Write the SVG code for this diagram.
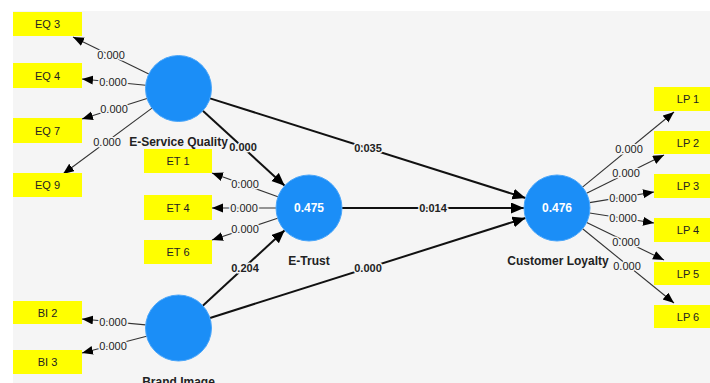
<svg xmlns="http://www.w3.org/2000/svg" width="710" height="383" viewBox="0 0 710 383">
<defs>
<style>
.box{fill:#ffff00}
.bt{font-family:"Liberation Sans",Arial,sans-serif;font-size:11px;fill:#222;text-anchor:middle}
.lv{fill:#1b8ef7;stroke:#4aa6fa;stroke-width:1}
.lt{font-family:"Liberation Sans",Arial,sans-serif;font-size:12px;font-weight:bold;fill:#222;text-anchor:middle}
.r2{font-family:"Liberation Sans",Arial,sans-serif;font-size:12px;font-weight:bold;fill:#fff;text-anchor:middle}
.ind{stroke:#333;stroke-width:1.1;fill:none;marker-end:url(#ah)}
.str{stroke:#111;stroke-width:2;fill:none;marker-end:url(#ahb)}
.nl{font-family:"Liberation Sans",Arial,sans-serif;font-size:11px;fill:#222;text-anchor:middle;stroke:#f5f5f5;stroke-width:3;paint-order:stroke}
.nb{font-family:"Liberation Sans",Arial,sans-serif;font-size:11px;font-weight:bold;fill:#222;text-anchor:middle;stroke:#f5f5f5;stroke-width:3;paint-order:stroke}
</style>
<marker id="ah" markerUnits="userSpaceOnUse" markerWidth="12" markerHeight="10" refX="11" refY="4.5" orient="auto"><path d="M0,0 L11,4.5 L0,9 Z" fill="#000"/></marker>
<marker id="ahb" markerUnits="userSpaceOnUse" markerWidth="14" markerHeight="12" refX="13" refY="5.5" orient="auto"><path d="M0,0 L13,5.5 L0,11 Z" fill="#000"/></marker>
</defs>
<rect x="13" y="11" width="697" height="372" fill="#f5f5f5"/>

<g id="connectors">
<line class="ind" x1="148.8" y1="74" x2="73" y2="37"/>
<line class="ind" x1="145.7" y1="85.3" x2="82" y2="79"/>
<line class="ind" x1="147" y1="98.4" x2="82" y2="119"/>
<line class="ind" x1="152" y1="108.1" x2="63" y2="174"/>
<line class="ind" x1="277.9" y1="196.8" x2="212" y2="173"/>
<line class="ind" x1="276" y1="208" x2="212" y2="208"/>
<line class="ind" x1="277.6" y1="218.3" x2="212" y2="240"/>
<line class="ind" x1="145.6" y1="324.9" x2="82" y2="319"/>
<line class="ind" x1="146.6" y1="336.3" x2="82" y2="353"/>
<line class="ind" x1="582.5" y1="187.1" x2="674" y2="112"/>
<line class="ind" x1="586.6" y1="193.3" x2="664" y2="155"/>
<line class="ind" x1="589.6" y1="202.6" x2="654" y2="192"/>
<line class="ind" x1="589.6" y1="213" x2="654" y2="223"/>
<line class="ind" x1="586.7" y1="222.4" x2="664" y2="260"/>
<line class="ind" x1="582.6" y1="228.8" x2="674" y2="303"/>
<line class="str" x1="202.8" y1="110.8" x2="284.7" y2="185.7"/>
<line class="str" x1="210" y1="98.4" x2="525.5" y2="198"/>
<line class="str" x1="342" y1="208" x2="524" y2="208"/>
<line class="str" x1="202.8" y1="305.7" x2="284.7" y2="230.3"/>
<line class="str" x1="210" y1="318" x2="525.5" y2="218"/>
<text class="nl" x="111" y="59">0.000</text>
<text class="nl" x="113" y="86">0.000</text>
<text class="nl" x="114" y="113">0.000</text>
<text class="nl" x="107" y="146">0.000</text>
<text class="nl" x="245" y="188">0.000</text>
<text class="nl" x="244" y="212">0.000</text>
<text class="nl" x="245" y="233">0.000</text>
<text class="nl" x="113" y="326">0.000</text>
<text class="nl" x="113" y="350">0.000</text>
<text class="nl" x="629" y="153">0.000</text>
<text class="nl" x="626" y="177">0.000</text>
<text class="nl" x="623" y="202">0.000</text>
<text class="nl" x="623" y="222">0.000</text>
<text class="nl" x="626" y="246">0.000</text>
<text class="nl" x="627" y="270">0.000</text>
<text class="nb" x="243" y="151">0.000</text>
<text class="nb" x="368" y="152">0.035</text>
<text class="nb" x="433" y="212">0.014</text>
<text class="nb" x="245" y="272">0.204</text>
<text class="nb" x="368" y="272">0.000</text>
</g>

<g id="EQ3"><rect class="box" x="13" y="12" width="69" height="24"/><text class="bt" x="47.5" y="28">EQ 3</text></g>
<g id="EQ4"><rect class="box" x="13" y="63" width="69" height="25"/><text class="bt" x="47.5" y="79.5">EQ 4</text></g>
<g id="EQ7"><rect class="box" x="13" y="118" width="69" height="25"/><text class="bt" x="47.5" y="134.5">EQ 7</text></g>
<g id="EQ9"><rect class="box" x="13" y="173" width="69" height="24"/><text class="bt" x="47.5" y="189">EQ 9</text></g>
<g id="ET1"><rect class="box" x="144" y="149" width="68" height="24"/><text class="bt" x="178" y="165">ET 1</text></g>
<g id="ET4"><rect class="box" x="144" y="195" width="68" height="25"/><text class="bt" x="178" y="211.5">ET 4</text></g>
<g id="ET6"><rect class="box" x="144" y="240" width="68" height="24"/><text class="bt" x="178" y="256">ET 6</text></g>
<g id="BI2"><rect class="box" x="13" y="301" width="69" height="23"/><text class="bt" x="47.5" y="316.5">BI 2</text></g>
<g id="BI3"><rect class="box" x="13" y="350" width="69" height="24"/><text class="bt" x="47.5" y="366">BI 3</text></g>
<g id="LP1"><rect class="box" x="654" y="87" width="68" height="24"/><text class="bt" x="688" y="103">LP 1</text></g>
<g id="LP2"><rect class="box" x="654" y="131" width="68" height="23"/><text class="bt" x="688" y="146.5">LP 2</text></g>
<g id="LP3"><rect class="box" x="654" y="174" width="68" height="24"/><text class="bt" x="688" y="190">LP 3</text></g>
<g id="LP4"><rect class="box" x="654" y="218" width="68" height="24"/><text class="bt" x="688" y="234">LP 4</text></g>
<g id="LP5"><rect class="box" x="654" y="262" width="68" height="23"/><text class="bt" x="688" y="277.5">LP 5</text></g>
<g id="LP6"><rect class="box" x="654" y="305" width="68" height="23"/><text class="bt" x="688" y="320.5">LP 6</text></g>

<g id="ESQ"><circle class="lv" cx="178.5" cy="88.5" r="33"/><text class="lt" x="178.5" y="146">E-Service Quality</text></g>
<g id="ETrust"><circle class="lv" cx="309" cy="208" r="33"/><text class="r2" x="309" y="212">0.475</text><text class="lt" x="309" y="265">E-Trust</text></g>
<g id="BrandImage"><circle class="lv" cx="178.5" cy="328" r="33"/><text class="lt" x="178.5" y="386">Brand Image</text></g>
<g id="CustomerLoyalty"><circle class="lv" cx="557" cy="208" r="33"/><text class="r2" x="557" y="212">0.476</text><text class="lt" x="558" y="265">Customer Loyalty</text></g>
</svg>
